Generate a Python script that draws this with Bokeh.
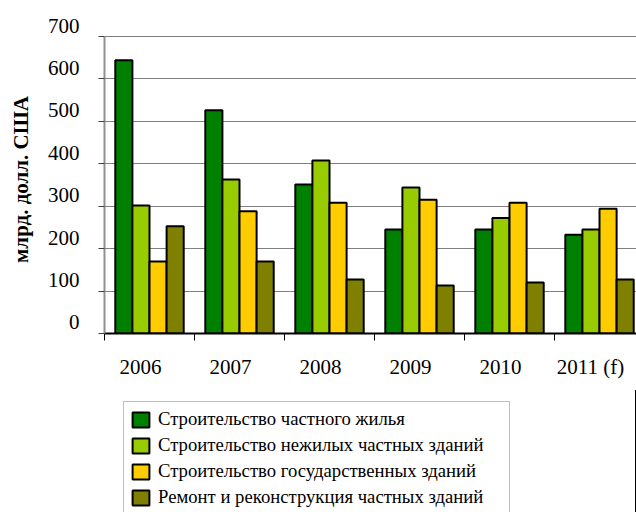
from bokeh.plotting import figure
from bokeh.models import (ColumnDataSource, Range1d, FixedTicker, LinearAxis,
                          Legend, LegendItem)
from bokeh.layouts import column
from bokeh.transform import dodge
from bokeh.embed import file_html
from bokeh.resources import INLINE

years = ["2006", "2007", "2008", "2009", "2010", "2011 (f)"]
private_housing = [644, 526, 351, 245, 245, 233]
private_nonres = [302, 363, 408, 344, 272, 245]
public_build = [170, 288, 308, 315, 308, 294]
repair = [253, 170, 127, 113, 120, 127]
series_names = [
    "Строительство частного жилья",
    "Строительство нежилых частных зданий",
    "Строительство государственных зданий",
    "Ремонт и реконструкция частных зданий",
]
colors = ["#008000", "#99CC00", "#FFCC00", "#808000"]
y_ticks = [0, 100, 200, 300, 400, 500, 600, 700]
y_title = "млрд. долл. США"

FONT = "Liberation Serif"
LABEL_SHIFT = 26      # tick labels sit slightly above their gridlines (data units)
XLABEL_SHIFT = 0.1    # category labels sit slightly left of centre (category units)

n = len(years)
xc = [i + 0.5 for i in range(n)]
src = ColumnDataSource(dict(x=xc, s0=private_housing, s1=private_nonres,
                            s2=public_build, s3=repair))

p = figure(width=636, height=390, output_backend="svg", toolbar_location=None,
           x_range=Range1d(0, 5.911), y_range=Range1d(0, 700 + LABEL_SHIFT),
           min_border_left=104, min_border_right=0, min_border_top=25,
           min_border_bottom=57)
p.outline_line_color = None
p.background_fill_color = "white"
p.border_fill_color = "white"

p.extra_y_ranges = {"lab": Range1d(-LABEL_SHIFT, 700)}
p.extra_x_ranges = {"xlab": Range1d(XLABEL_SHIFT, 5.911 + XLABEL_SHIFT)}

# main y axis: line + ticks
ya = p.yaxis[0]
ya.ticker = FixedTicker(ticks=y_ticks)
ya.bounds = (0, 700)
ya.major_label_text_alpha = 0
ya.major_label_text_font_size = "1px"
ya.major_label_standoff = 0
ya.axis_line_color = "#909090"
ya.axis_line_width = 2
ya.major_tick_out = 6
ya.major_tick_in = 0
ya.major_tick_line_color = "#404040"
ya.minor_tick_line_color = None

# y labels axis
yl = LinearAxis(y_range_name="lab", ticker=FixedTicker(ticks=y_ticks),
                axis_line_color=None, major_tick_line_color=None,
                minor_tick_line_color=None, major_tick_out=0, major_tick_in=0,
                major_label_standoff=19,
                major_label_text_font=FONT, major_label_text_font_size="21px",
                major_label_text_color="black",
                axis_label=y_title, axis_label_text_font=FONT,
                axis_label_text_font_size="21px", axis_label_text_font_style="bold",
                axis_label_text_color="black", axis_label_standoff=12)
p.add_layout(yl, "left")

# main x axis: line + boundary ticks
xa = p.xaxis[0]
xa.ticker = FixedTicker(ticks=list(range(n + 1)))
xa.major_label_text_alpha = 0
xa.major_label_text_font_size = "1px"
xa.major_label_standoff = 0
xa.axis_line_color = "black"
xa.axis_line_width = 2
xa.major_tick_out = 7
xa.major_tick_in = 0
xa.major_tick_line_color = "black"
xa.minor_tick_line_color = None

# category labels axis
xl = LinearAxis(x_range_name="xlab", ticker=FixedTicker(ticks=xc),
                major_label_overrides={x: y for x, y in zip(xc, years)},
                axis_line_color=None, major_tick_line_color=None,
                minor_tick_line_color=None, major_tick_out=0, major_tick_in=0,
                major_label_standoff=14,
                major_label_text_font=FONT, major_label_text_font_size="21px",
                major_label_text_color="black")
p.add_layout(xl, "below")

p.xgrid.grid_line_color = None
p.ygrid.ticker = FixedTicker(ticks=y_ticks)
p.ygrid.grid_line_color = "#808080"
p.ygrid.grid_line_width = 1

width = 0.19
offsets = [-1.5 * width, -0.5 * width, 0.5 * width, 1.5 * width]
for k, (col, c) in enumerate(zip(["s0", "s1", "s2", "s3"], colors)):
    p.vbar(x=dodge("x", offsets[k], range=p.x_range), top=col, width=width,
           source=src, fill_color=c, line_color="black", line_width=2)

# legend figure (frame = whole figure, so the legend is not clipped)
lg = figure(width=636, height=122, output_backend="svg", toolbar_location=None,
            x_range=Range1d(-20, -19), y_range=Range1d(0, 1),
            min_border=0, min_border_left=0, min_border_right=0,
            min_border_top=0, min_border_bottom=0)
lg.axis.visible = False
lg.grid.visible = False
lg.outline_line_color = None
lg.background_fill_color = "white"
lg.border_fill_color = "white"
lrs = []
for k, (col, c) in enumerate(zip(["s0", "s1", "s2", "s3"], colors)):
    r = lg.vbar(x="x", top=col, width=width, source=src,
                fill_color=c, line_color="black", line_width=2)
    lrs.append(r)

legend = Legend(items=[LegendItem(label=s, renderers=[r]) for s, r in zip(series_names, lrs)],
                location=(19, -3), orientation="vertical", margin=0,
                glyph_width=21, glyph_height=19, label_height=20, spacing=4,
                padding=6, label_standoff=7, label_width=345,
                label_text_font=FONT, label_text_font_size="18.7px",
                label_text_color="black",
                border_line_color="#808080", border_line_width=1,
                background_fill_color="white", background_fill_alpha=1)
lg.add_layout(legend, "center")

open("out.html", "w").write(file_html(column(p, lg, spacing=0), INLINE))
